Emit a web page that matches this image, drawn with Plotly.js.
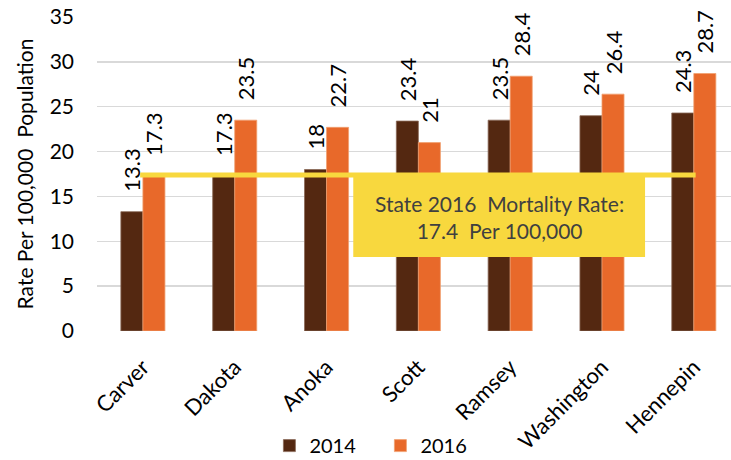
<!DOCTYPE html>
<html>
<head>
<meta charset="utf-8">
<script src="https://cdn.plot.ly/plotly-3.0.1.min.js"></script>
<style>html,body{margin:0;padding:0;background:#fff;}#chart{width:731px;height:460px;}</style>
</head>
<body>
<div id="chart"></div>
<script>
var counties = ["Carver", "Dakota", "Anoka", "Scott", "Ramsey", "Washington", "Hennepin"];
var rates2014 = [13.3, 17.3, 18, 23.4, 23.5, 24, 24.3];
var rates2016 = [17.3, 23.5, 22.7, 21, 28.4, 26.4, 28.7];
var stateRate = 17.4;
var yTicks = [0, 5, 10, 15, 20, 25, 30, 35];

var FONT = "Lato, 'Open Sans', sans-serif";
var PAD = "\u00A0\u00A0\u00A0";

function labels(arr) { return arr.map(function (v) { return PAD + String(v); }); }

var trace2014 = {
  type: "bar", name: "2014", x: counties, y: rates2014,
  text: labels(rates2014), textposition: "outside", textangle: -90,
  constraintext: "none", cliponaxis: false,
  textfont: {family: FONT, size: 22, color: "#000"},
  marker: {color: "#542811", line: {color: "#8a6a58", width: 0.8}}
};
var trace2016 = {
  type: "bar", name: "2016", x: counties, y: rates2016,
  text: labels(rates2016), textposition: "outside", textangle: -90,
  constraintext: "none", cliponaxis: false,
  textfont: {family: FONT, size: 22, color: "#000"},
  marker: {color: "#E8692A", line: {color: "#f0a070", width: 0.8}}
};

var layout = {
  width: 731, height: 460,
  margin: {l: 97, r: 0, t: 17, b: 129, autoexpand: false},
  paper_bgcolor: "#fff", plot_bgcolor: "#fff",
  font: {family: FONT, size: 20, color: "#000"},
  barmode: "group", bargap: 0.52, bargroupgap: 0,
  showlegend: true,
  legend: {orientation: "h", x: 0.447, xanchor: "center", y: -0.365, yanchor: "middle",
           entrywidth: 66,
           font: {family: FONT, size: 20, color: "#000"}, traceorder: "normal"},
  xaxis: {
    type: "category", range: [-0.5, 6.405], tickangle: -45,
    showgrid: false, zeroline: false, showline: false, ticks: "",
    ticklabelstandoff: 18,
    tickfont: {family: FONT, size: 22, color: "#000"}
  },
  yaxis: {
    range: [0, 35], tickvals: yTicks, ticktext: yTicks.map(String),
    showgrid: true, gridcolor: "#D9D9D9", gridwidth: 1.5,
    zeroline: false, showline: false, ticks: "",
    ticklabelstandoff: 22,
    tickfont: {family: FONT, size: 21, color: "#000"},
    title: {text: "Rate Per 100,000\u00A0 Population", font: {family: FONT, size: 21, color: "#000"}, standoff: 10}
  },
  shapes: [
    {type: "rect", xref: "x", yref: "y", x0: 2.291, x1: 5.469, y0: 8.25, y1: 17.17,
     fillcolor: "#F8D83E", line: {width: 0}, layer: "above"},
    {type: "line", xref: "x", yref: "y", x0: -0.03, x1: 6.02, y0: stateRate, y1: stateRate,
     line: {color: "#F8D83E", width: 5}, layer: "above"}
  ],
  annotations: [
    {xref: "x", yref: "y", x: 3.88, y: 12.7, showarrow: false,
     text: "State 2016\u00A0 Mortality Rate:<br>" + stateRate + "\u00A0 Per 100,000",
     font: {family: FONT, size: 21, color: "#404040"}, align: "center"}
  ]
};

Plotly.newPlot("chart", [trace2014, trace2016], layout, {displayModeBar: false, staticPlot: true});
</script>
</body>
</html>
